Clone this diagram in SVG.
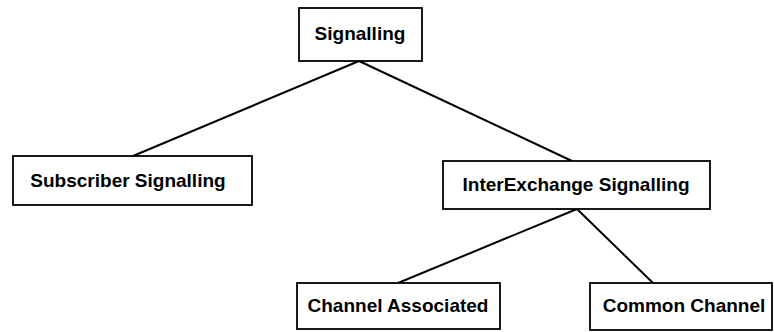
<svg xmlns="http://www.w3.org/2000/svg" width="774" height="332" viewBox="0 0 774 332">
  <style>
    .box { fill: #ffffff; stroke: #000000; stroke-width: 1.8; }
    .lbl { font-family: "Liberation Sans", Arial, sans-serif; font-weight: bold; font-size: 19px; fill: #000000; text-anchor: middle; }
    .edge { stroke: #000000; stroke-width: 2; fill: none; }
  </style>
  <rect width="774" height="332" fill="#ffffff"/>

  <!-- tree connectors -->
  <g id="connectors">
    <line class="edge" x1="359" y1="61" x2="133" y2="156"/>
    <line class="edge" x1="359" y1="61" x2="572" y2="161"/>
    <line class="edge" x1="577" y1="209" x2="398" y2="283"/>
    <line class="edge" x1="577" y1="209" x2="653" y2="283"/>
  </g>

  <g id="signalling">
    <rect class="box" x="299" y="8" width="123" height="53"/>
    <text class="lbl" x="360" y="40">Signalling</text>
  </g>

  <g id="subscriber-signalling">
    <rect class="box" x="13" y="156" width="239" height="49"/>
    <text class="lbl" x="128" y="187">Subscriber Signalling</text>
  </g>

  <g id="interexchange-signalling">
    <rect class="box" x="443" y="161" width="267" height="48"/>
    <text class="lbl" x="576" y="191">InterExchange Signalling</text>
  </g>

  <g id="channel-associated">
    <rect class="box" x="297" y="283" width="203" height="46"/>
    <text class="lbl" x="398" y="312">Channel Associated</text>
  </g>

  <g id="common-channel">
    <rect class="box" x="590" y="283" width="182" height="47"/>
    <text class="lbl" x="684" y="312">Common Channel</text>
  </g>
</svg>
